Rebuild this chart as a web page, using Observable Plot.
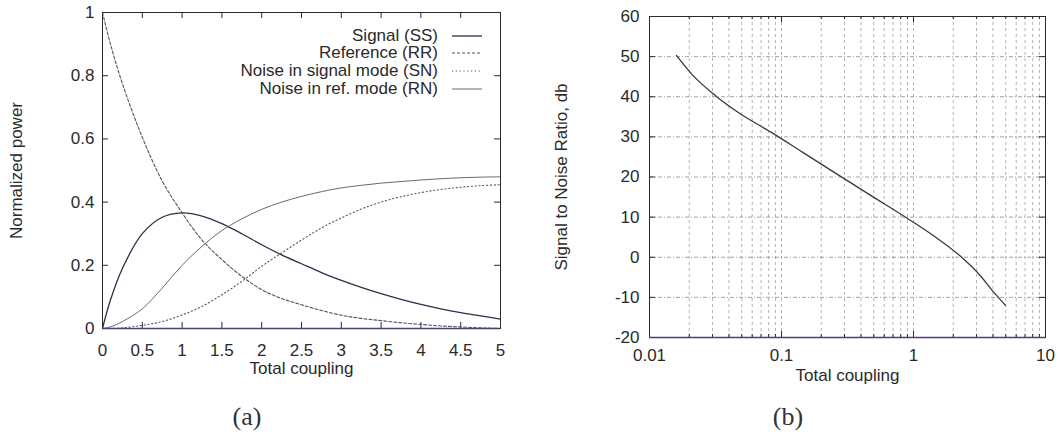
<!DOCTYPE html>
<html><head><meta charset="utf-8">
<script src="https://cdn.jsdelivr.net/npm/d3@7"></script>
<script src="https://cdn.jsdelivr.net/npm/@observablehq/plot@0.6"></script>
<style>
html,body{margin:0;padding:0;background:#fff;}
#wrap{position:relative;width:1060px;height:444px;overflow:hidden;font-family:"Liberation Sans",Arial,sans-serif;background:#fff;}
.panel{position:absolute;top:0;}
.cap{position:absolute;font-family:"Liberation Serif","DejaVu Serif",serif;font-size:26px;color:#333;transform:translate(-50%,-50%);}
#legend{position:absolute;left:0;top:27px;width:482px;font-size:17px;color:#2a2a2a;}
.lrow{position:relative;height:17.6px;display:flex;justify-content:flex-end;align-items:center;white-space:nowrap;}
.lrow svg{margin-left:14px;}
</style></head><body>
<div id="wrap">
  <div id="pa" class="panel" style="left:0"></div>
  <div id="pb" class="panel" style="left:530px"></div>
  <div id="legend"></div>
  <div class="cap" style="left:247px;top:417px">(a)</div>
  <div class="cap" style="left:788px;top:417px">(b)</div>
</div>
<script>
// ---------- Panel (a) data ----------
const couplingA = [0, 0.1, 0.25, 0.5, 0.75, 1, 1.25, 1.5, 1.75, 2, 2.25, 2.5, 2.75, 3, 3.25, 3.5, 3.75, 4, 4.25, 4.5, 4.75, 5];
const signalSS    = [0, 0.09, 0.19, 0.3, 0.352, 0.366, 0.356, 0.332, 0.3, 0.265, 0.233, 0.205, 0.177, 0.152, 0.13, 0.11, 0.092, 0.076, 0.062, 0.05, 0.04, 0.03];
const referenceRR = [1, 0.9, 0.775, 0.605, 0.467, 0.366, 0.28, 0.218, 0.165, 0.123, 0.095, 0.075, 0.057, 0.042, 0.032, 0.025, 0.018, 0.013, 0.008, 0.005, 0.002, 0.0];
const noiseSN     = [0, 0, 0.002, 0.01, 0.022, 0.043, 0.07, 0.107, 0.149, 0.197, 0.239, 0.28, 0.318, 0.35, 0.378, 0.4, 0.417, 0.43, 0.44, 0.447, 0.452, 0.455];
const noiseRN     = [0, 0.005, 0.022, 0.062, 0.128, 0.2, 0.26, 0.31, 0.347, 0.377, 0.4, 0.418, 0.433, 0.445, 0.453, 0.46, 0.465, 0.47, 0.474, 0.477, 0.479, 0.48];
const seriesNames = ["Signal (SS)", "Reference (RR)", "Noise in signal mode (SN)", "Noise in ref. mode (RN)"];
const xTicksA = [0, 0.5, 1, 1.5, 2, 2.5, 3, 3.5, 4, 4.5, 5];
const yTicksA = [0, 0.2, 0.4, 0.6, 0.8, 1];

// ---------- Panel (b) data ----------
const couplingB = [0.016, 0.0208, 0.0323, 0.05, 0.085, 0.144, 0.258, 0.464, 0.937, 1.5, 2.26, 3.21, 4.05, 4.98];
const snrDb     = [50.3, 45.7, 40.0, 35.5, 31.0, 26.2, 20.9, 15.6, 9.3, 4.8, 0.3, -4.6, -8.7, -12.0];
const xMajorB = [0.01, 0.1, 1, 10];
const xMinorB = [0.02, 0.03, 0.04, 0.05, 0.06, 0.07, 0.08, 0.09, 0.2, 0.3, 0.4, 0.5, 0.6, 0.7, 0.8, 0.9, 2, 3, 4, 5, 6, 7, 8, 9];
const yTicksB = [-20, -10, 0, 10, 20, 30, 40, 50, 60];

// ---------- styles ----------
const styles = [
  {stroke: "#2e2e48", strokeWidth: 1.3, dash: null},
  {stroke: "#555", strokeWidth: 1.1, dash: "3,2"},
  {stroke: "#555", strokeWidth: 1.1, dash: "1.2,2.6"},
  {stroke: "#6a6a6a", strokeWidth: 1.0, dash: null}
];
const seriesVals = [signalSS, referenceRR, noiseSN, noiseRN];
const font = "'Liberation Sans', Arial, sans-serif";
const ink = "#2a2a2a";
const fmt = d => String(d);

// ---------- Panel (a) ----------
const WA = 530, HA = 390, mlA = 102, mrA = 30, mtA = 12, mbA = 62;
const pwA = WA - mlA - mrA, phA = HA - mtA - mbA, tk = 6;
const lineMarks = seriesVals.map((vals, i) => Plot.line(
  couplingA.map((x, j) => ({x, v: vals[j]})),
  {x: "x", y: "v", curve: "catmull-rom", stroke: styles[i].stroke, strokeWidth: styles[i].strokeWidth, strokeDasharray: styles[i].dash}
));
const plotA = Plot.plot({
  width: WA, height: HA, marginLeft: mlA, marginRight: mrA, marginTop: mtA, marginBottom: mbA,
  style: {fontFamily: font, fontSize: "17px", color: ink, background: "white", overflow: "visible"},
  x: {domain: [0, 5]},
  y: {domain: [0, 1]},
  marks: [
    Plot.axisX(xTicksA, {tickSize: 0, tickPadding: 15, fontSize: 17, tickFormat: fmt, label: "Total coupling", labelAnchor: "center", labelArrow: "none", labelOffset: 45}),
    Plot.axisY(yTicksA, {tickSize: 0, tickPadding: 8, fontSize: 17, tickFormat: fmt, label: "Normalized power", labelAnchor: "center", labelArrow: "none", labelOffset: 93}),
    Plot.tickX(xTicksA, {x: d => d, insetTop: phA - tk, stroke: ink}),
    Plot.tickX(xTicksA, {x: d => d, insetBottom: phA - tk, stroke: ink}),
    Plot.tickY(yTicksA, {y: d => d, insetRight: pwA - tk, stroke: ink}),
    Plot.tickY(yTicksA, {y: d => d, insetLeft: pwA - tk, stroke: ink}),
    ...lineMarks,
    Plot.frame({stroke: ink}),
    Plot.ruleY([0], {stroke: "#4b3f78", strokeWidth: 1.3})
  ]
});
document.getElementById("pa").append(plotA);

// legend (a)
const leg = document.getElementById("legend");
seriesNames.forEach((name, i) => {
  const row = document.createElement("div");
  row.className = "lrow";
  const span = document.createElement("span");
  span.textContent = name;
  row.append(span);
  const s = styles[i];
  const svgNS = "http://www.w3.org/2000/svg";
  const svg = document.createElementNS(svgNS, "svg");
  svg.setAttribute("width", 30); svg.setAttribute("height", 6);
  const ln = document.createElementNS(svgNS, "line");
  ln.setAttribute("x1", 0); ln.setAttribute("x2", 30); ln.setAttribute("y1", 3); ln.setAttribute("y2", 3);
  ln.setAttribute("stroke", s.stroke); ln.setAttribute("stroke-width", s.strokeWidth);
  if (s.dash) ln.setAttribute("stroke-dasharray", s.dash);
  svg.append(ln);
  row.append(svg);
  leg.append(row);
});

// ---------- Panel (b) ----------
const WB = 530, HB = 390, mlB = 119, mrB = 15, mtB = 16, mbB = 53;
const pwB = WB - mlB - mrB, phB = HB - mtB - mbB;
const gridStyle = {stroke: "#a0a0a0", strokeOpacity: 1, strokeWidth: 0.8, strokeDasharray: "3,3"};
const plotB = Plot.plot({
  width: WB, height: HB, marginLeft: mlB, marginRight: mrB, marginTop: mtB, marginBottom: mbB,
  style: {fontFamily: font, fontSize: "17px", color: ink, background: "white", overflow: "visible"},
  x: {type: "log", domain: [0.01, 10]},
  y: {domain: [-20, 60]},
  marks: [
    Plot.gridX(xMinorB.concat(xMajorB), gridStyle),
    Plot.gridY(yTicksB, {...gridStyle, stroke: "#8a8a8a", strokeDasharray: "4,2,1,2"}),
    Plot.axisX(xMajorB, {tickSize: 0, tickPadding: 11, fontSize: 17, tickFormat: fmt, label: "Total coupling", labelAnchor: "center", labelArrow: "none", labelOffset: 43}),
    Plot.axisY(yTicksB, {tickSize: 0, tickPadding: 10, fontSize: 17, tickFormat: fmt, label: "Signal to Noise Ratio, db", labelAnchor: "center", labelArrow: "none", labelOffset: 95}),
    Plot.tickX(xMajorB, {x: d => d, insetTop: phB - tk, stroke: ink}),
    Plot.tickX(xMajorB, {x: d => d, insetBottom: phB - tk, stroke: ink}),
    Plot.tickX(xMinorB, {x: d => d, insetTop: phB - 3, stroke: ink}),
    Plot.tickX(xMinorB, {x: d => d, insetBottom: phB - 3, stroke: ink}),
    Plot.tickY(yTicksB, {y: d => d, insetRight: pwB - tk, stroke: ink}),
    Plot.tickY(yTicksB, {y: d => d, insetLeft: pwB - tk, stroke: ink}),
    Plot.line(couplingB.map((x, j) => ({x, v: snrDb[j]})), {x: "x", y: "v", curve: "monotone-x", stroke: "#3a3a3a", strokeWidth: 1.3}),
    Plot.frame({stroke: ink}),
    Plot.ruleY([-20], {stroke: "#4b3f78", strokeWidth: 1.3})
  ]
});
document.getElementById("pb").append(plotB);
</script>
</body></html>
